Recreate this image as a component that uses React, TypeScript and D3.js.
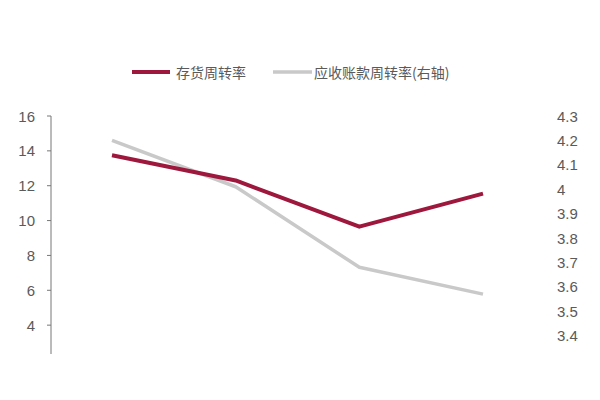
import React from "react";
import * as d3 from "d3";

const categories = ["2014", "2015", "2016", "2017"];
const inventoryTurnover = [13.75, 12.3, 9.65, 11.55];
const receivableTurnover = [4.2, 4.01, 3.68, 3.57];
const leftTicks = [2, 4, 6, 8, 10, 12, 14, 16];
const rightTicks = [3.4, 3.5, 3.6, 3.7, 3.8, 3.9, 4.0, 4.1, 4.2, 4.3];
const seriesNames = ["存货周转率", "应收账款周转率(右轴)"];

const W = 600;
const H = 400;
const RED = "#9E173C";
const GRAY = "#C9C9C9";
const TEXT = "#5a5a5a";

export default function App() {
  const yTop = 116;
  const yBottom = 360;
  const clipBottom = 354;
  const x = d3.scalePoint<string>().domain(categories).range([112, 483]);
  const yL = d3.scaleLinear().domain([2, 16]).range([yBottom, yTop]);
  const yR = d3.scaleLinear().domain([3.3, 4.3]).range([yBottom, yTop]);

  const lineL = d3
    .line<number>()
    .x((_, i) => x(categories[i]) as number)
    .y((d) => yL(d));
  const lineR = d3
    .line<number>()
    .x((_, i) => x(categories[i]) as number)
    .y((d) => yR(d));

  const axisX = 51;

  return (
    <svg
      width={W}
      height={H}
      style={{ position: "absolute", left: 0, top: 0, background: "#fff" }}
    >
      <defs>
        <clipPath id="crop">
          <rect x={0} y={0} width={W} height={clipBottom} />
        </clipPath>
      </defs>
      <rect x={0} y={0} width={W} height={H} fill="#fff" />

      {/* legend */}
      <g>
        <line x1={132} x2={170} y1={72} y2={72} stroke={RED} strokeWidth={4} />
        <text
          x={176}
          y={72}
          dominantBaseline="central"
          fontFamily="'Noto Sans CJK SC'"
          fontSize={14}
          fill={TEXT}
        >
          {seriesNames[0]}
        </text>
        <line x1={273} x2={312} y1={72} y2={72} stroke={GRAY} strokeWidth={3.5} />
        <text
          x={314}
          y={72}
          dominantBaseline="central"
          fontFamily="'Noto Sans CJK SC'"
          fontSize={14}
          fill={TEXT}
        >
          {seriesNames[1]}
        </text>
      </g>

      <g clipPath="url(#crop)">
        {/* left axis */}
        <line x1={axisX} x2={axisX} y1={yTop} y2={yBottom} stroke="#777" strokeWidth={1} />
        {leftTicks.map((t) => (
          <g key={t}>
            <line x1={axisX - 4} x2={axisX} y1={yL(t)} y2={yL(t)} stroke="#777" strokeWidth={1} />
            <text
              x={35}
              y={yL(t)}
              textAnchor="end"
              dominantBaseline="central"
              fontFamily="'Liberation Sans', Arial, sans-serif"
              fontSize={15}
              fill={TEXT}
            >
              {t}
            </text>
          </g>
        ))}

        {/* right axis labels */}
        {rightTicks.map((t) => (
          <text
            key={t}
            x={557}
            y={yR(t)}
            textAnchor="start"
            dominantBaseline="central"
            fontFamily="'Liberation Sans', Arial, sans-serif"
            fontSize={15}
            fill={TEXT}
          >
            {d3.format("~g")(t)}
          </text>
        ))}

        {/* series */}
        <path
          d={lineR(receivableTurnover) || ""}
          fill="none"
          stroke={GRAY}
          strokeWidth={3.5}
          strokeLinejoin="round"
        />
        <path
          d={lineL(inventoryTurnover) || ""}
          fill="none"
          stroke={RED}
          strokeWidth={4}
          strokeLinejoin="round"
        />
      </g>
    </svg>
  );
}
